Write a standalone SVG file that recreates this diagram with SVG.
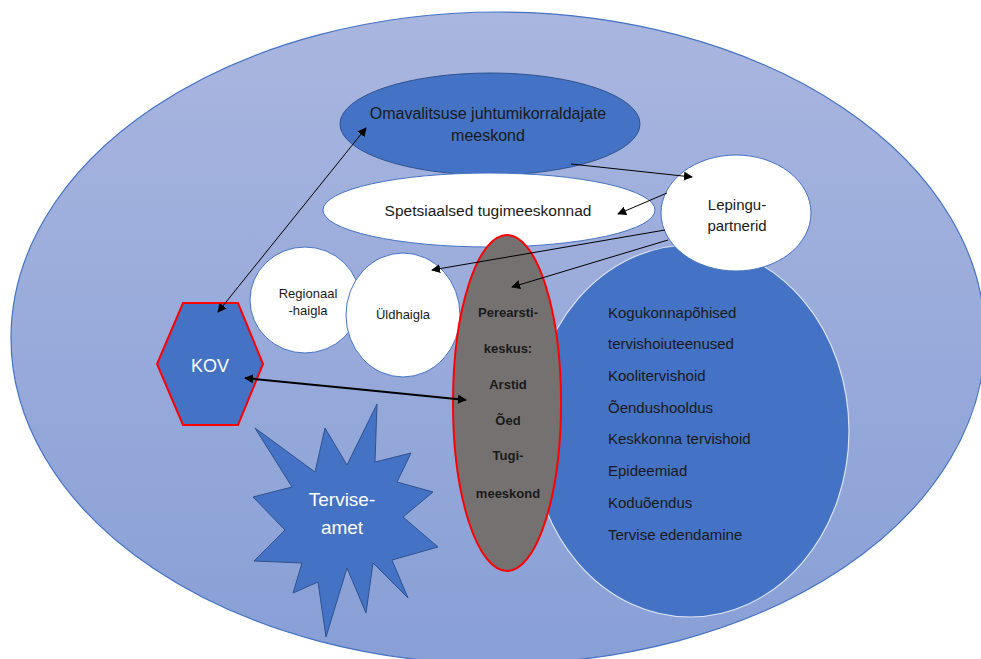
<svg xmlns="http://www.w3.org/2000/svg" width="981" height="659" viewBox="0 0 981 659">
<defs>
<linearGradient id="bg" x1="0" y1="0" x2="0" y2="1">
<stop offset="0" stop-color="#A9B6DF"/>
<stop offset="1" stop-color="#889FD6"/>
</linearGradient>
<marker id="ah" viewBox="0 0 10 10" refX="9" refY="5" markerWidth="9" markerHeight="9" markerUnits="userSpaceOnUse" orient="auto-start-reverse">
<path d="M0,0 L10,5 L0,10 z" fill="#000"/>
</marker>
</defs>
<style>
text{font-family:"Liberation Sans",Arial,sans-serif;fill:#1a1a1a;text-anchor:middle;dominant-baseline:central}
.w{fill:#fff}
.b{font-weight:bold;font-size:13px}
.list{text-anchor:start;font-size:15px}
.blue{fill:#4472C4;stroke:#2F528F;stroke-width:1}
.white{fill:#fff;stroke:#4472C4;stroke-width:1}
.con{stroke:#000;stroke-width:1;fill:none;marker-end:url(#ah)}
</style>
<rect width="981" height="659" fill="#fff"/>
<g id="background">
<ellipse cx="498" cy="338" rx="487" ry="326" fill="url(#bg)" stroke="#4472C4" stroke-width="1.2"/>
</g>
<g id="omavalitsuse">
<ellipse class="blue" cx="490" cy="124" rx="150" ry="51"/>
<text x="488" y="113" font-size="16">Omavalitsuse juhtumikorraldajate</text>
<text x="488" y="135" font-size="16">meeskond</text>
</g>
<g id="spetsiaalsed">
<ellipse class="white" cx="489" cy="210" rx="166" ry="37"/>
<text x="488" y="210" font-size="15.5">Spetsiaalsed tugimeeskonnad</text>
</g>
<g id="kogukond">
<ellipse cx="690" cy="431" rx="159" ry="186" fill="#4472C4" stroke="#DCE3F3" stroke-width="1.2"/>
<text class="list" x="608" y="312">Kogukonnapõhised</text>
<text class="list" x="608" y="343">tervishoiuteenused</text>
<text class="list" x="608" y="375">Koolitervishoid</text>
<text class="list" x="608" y="407">Õendushooldus</text>
<text class="list" x="608" y="438">Keskkonna tervishoid</text>
<text class="list" x="608" y="470">Epideemiad</text>
<text class="list" x="608" y="502">Koduõendus</text>
<text class="list" x="608" y="534">Tervise edendamine</text>
</g>
<g id="lepingu">
<ellipse class="white" cx="736" cy="213" rx="75" ry="58"/>
<text x="737" y="204" font-size="15">Lepingu-</text>
<text x="737" y="225" font-size="15">partnerid</text>
</g>
<g id="regionaal">
<ellipse class="white" cx="305" cy="300" rx="55" ry="53"/>
<text x="308" y="293" font-size="13">Regionaal</text>
<text x="308" y="310" font-size="13">-haigla</text>
</g>
<g id="yldhaigla">
<ellipse class="white" cx="403" cy="315" rx="57" ry="62"/>
<text x="403" y="314" font-size="13">Üldhaigla</text>
</g>
<g id="perearst">
<ellipse cx="507" cy="403" rx="54" ry="168" fill="#767171" stroke="#FF0000" stroke-width="2"/>
<text class="b" x="508" y="312">Perearsti-</text>
<text class="b" x="508" y="348">keskus:</text>
<text class="b" x="508" y="384">Arstid</text>
<text class="b" x="508" y="420">Õed</text>
<text class="b" x="508" y="455">Tugi-</text>
<text class="b" x="508" y="493">meeskond</text>
</g>
<g id="kov">
<polygon points="183,303 238,303 263,364 238,425 183,425 157,364" fill="#4472C4" stroke="#FF0000" stroke-width="2"/>
<text class="w" x="210" y="366" font-size="18">KOV</text>
</g>
<g id="terviseamet">
<polygon class="blue" points="255,428 315,472 325,428 347,465 377,404 375,462 411,453 397,482 433,492 403,517 438,547 392,560 408,598 373,563 366,613 347,568 326,637 318,582 293,593 302,563 254,561 285,530 253,497 292,487"/>
<text class="w" x="342" y="499" font-size="19">Tervise-</text>
<text class="w" x="342" y="527" font-size="19">amet</text>
</g>
<g id="connectors">
<line class="con" x1="292" y1="220" x2="366" y2="128"/>
<line class="con" x1="292" y1="220" x2="218" y2="312"/>
<line class="con" x1="571" y1="164" x2="692" y2="177"/>
<line class="con" x1="667" y1="193" x2="618" y2="214"/>
<line class="con" x1="665" y1="230" x2="432" y2="270"/>
<line class="con" x1="668" y1="240" x2="512" y2="287"/>
<line x1="356" y1="389" x2="245" y2="378" stroke="#000" stroke-width="2" fill="none" marker-end="url(#ah)"/>
<line x1="356" y1="389" x2="466" y2="400" stroke="#000" stroke-width="2" fill="none" marker-end="url(#ah)"/>
</g>
</svg>
